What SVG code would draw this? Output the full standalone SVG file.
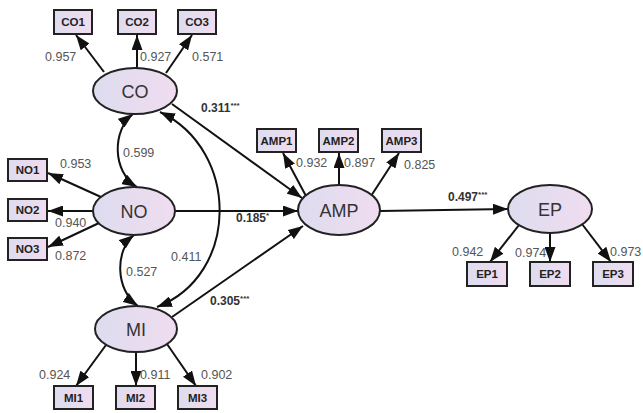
<svg xmlns="http://www.w3.org/2000/svg" width="643" height="413" viewBox="0 0 643 413">
<defs>
<linearGradient id="g" x1="0" y1="0" x2="1" y2="0">
<stop offset="0" stop-color="#dedcef"/>
<stop offset="1" stop-color="#f0dcf0"/>
</linearGradient>
<marker id="ah" markerUnits="userSpaceOnUse" markerWidth="15" markerHeight="11" refX="15" refY="5.5" orient="auto-start-reverse">
<path d="M0,0 L15,5.5 L0,11 z" fill="#111"/>
</marker>
<style>
.lat{fill:url(#g);stroke:#222;stroke-width:2}
.box{fill:url(#g);stroke:#222;stroke-width:2}
.lt{font-family:"Liberation Sans",Arial,sans-serif;font-size:18px;fill:#333;text-anchor:middle}
.bt{font-family:"Liberation Sans",Arial,sans-serif;font-size:11.5px;font-weight:bold;fill:#222;text-anchor:middle}
.ld{font-family:"Liberation Sans",Arial,sans-serif;font-size:12.5px;fill:#555}
.pc{font-family:"Liberation Sans",Arial,sans-serif;font-size:12px;font-weight:bold;fill:#333}
.st{font-size:8px}
.c{fill:none;stroke:#111;stroke-width:2;marker-end:url(#ah)}
.d{fill:none;stroke:#111;stroke-width:2;marker-start:url(#ah);marker-end:url(#ah)}
</style>
</defs>
<rect width="643" height="413" fill="#fff"/>
<g id="connectors">
<path class="c" d="M104,72 L76,35"/>
<path class="c" d="M137,68 L137,35"/>
<path class="c" d="M166,73 L192,35"/>
<path class="c" d="M101,197 L48,173"/>
<path class="c" d="M93,211 L48,211"/>
<path class="c" d="M99,223 L48,247"/>
<path class="c" d="M106,345 L76,386"/>
<path class="c" d="M136,352 L136,386"/>
<path class="c" d="M167,344 L196,386"/>
<path class="c" d="M306,196 L283,153"/>
<path class="c" d="M339,187 L339,153"/>
<path class="c" d="M371,196 L399,153"/>
<path class="c" d="M519,225 L490,262"/>
<path class="c" d="M550,233 L550,262"/>
<path class="c" d="M582,224 L611,262"/>
<path class="c" d="M172,104 L302,198"/>
<path class="c" d="M175,211 L298,211"/>
<path class="c" d="M172,317 L303,226"/>
<path class="c" d="M380,211 L508,209"/>
<path class="d" d="M137,187 C112,172 112,130 133,114"/>
<path class="d" d="M134,235 C115,250 115,290 138,306"/>
<path class="d" d="M160,112 C240,150 240,275 157,307"/>
</g>
<g id="CO"><ellipse class="lat" cx="135" cy="91" rx="42" ry="23"/><text class="lt" x="135" y="97.5">CO</text></g>
<g id="NO"><ellipse class="lat" cx="134" cy="211" rx="41" ry="24"/><text class="lt" x="134" y="217.5">NO</text></g>
<g id="MI"><ellipse class="lat" cx="136" cy="329" rx="41" ry="23"/><text class="lt" x="136" y="335.5">MI</text></g>
<g id="AMP"><ellipse class="lat" cx="339" cy="210" rx="41" ry="25"/><text class="lt" x="339" y="216.5">AMP</text></g>
<g id="EP"><ellipse class="lat" cx="550" cy="209" rx="42" ry="24"/><text class="lt" x="550" y="215.5">EP</text></g>
<g id="CO1"><rect class="box" x="54" y="10" width="38" height="24"/><text class="bt" x="73" y="26">CO1</text></g>
<g id="CO2"><rect class="box" x="118" y="10" width="38" height="24"/><text class="bt" x="137" y="26">CO2</text></g>
<g id="CO3"><rect class="box" x="178" y="10" width="38" height="24"/><text class="bt" x="197" y="26">CO3</text></g>
<g id="NO1"><rect class="box" x="8" y="159" width="39" height="22"/><text class="bt" x="27.5" y="174">NO1</text></g>
<g id="NO2"><rect class="box" x="8" y="199" width="39" height="22"/><text class="bt" x="27.5" y="214">NO2</text></g>
<g id="NO3"><rect class="box" x="8" y="238" width="39" height="22"/><text class="bt" x="27.5" y="253">NO3</text></g>
<g id="MI1"><rect class="box" x="54" y="386" width="39" height="23"/><text class="bt" x="73.5" y="401.5">MI1</text></g>
<g id="MI2"><rect class="box" x="116" y="386" width="39" height="23"/><text class="bt" x="135.5" y="401.5">MI2</text></g>
<g id="MI3"><rect class="box" x="178" y="386" width="39" height="23"/><text class="bt" x="197.5" y="401.5">MI3</text></g>
<g id="AMP1"><rect class="box" x="257" y="129" width="39" height="23"/><text class="bt" x="276.5" y="144.5">AMP1</text></g>
<g id="AMP2"><rect class="box" x="319" y="129" width="39" height="23"/><text class="bt" x="338.5" y="144.5">AMP2</text></g>
<g id="AMP3"><rect class="box" x="382" y="129" width="39" height="23"/><text class="bt" x="401.5" y="144.5">AMP3</text></g>
<g id="EP1"><rect class="box" x="467" y="262" width="40" height="24"/><text class="bt" x="487" y="278">EP1</text></g>
<g id="EP2"><rect class="box" x="530" y="262" width="40" height="24"/><text class="bt" x="550" y="278">EP2</text></g>
<g id="EP3"><rect class="box" x="593" y="262" width="40" height="24"/><text class="bt" x="613" y="278">EP3</text></g>
<g id="labels">
<text class="ld" x="45" y="61">0.957</text>
<text class="ld" x="140" y="61">0.927</text>
<text class="ld" x="192" y="61">0.571</text>
<text class="ld" x="60" y="168">0.953</text>
<text class="ld" x="55" y="227">0.940</text>
<text class="ld" x="55" y="260">0.872</text>
<text class="ld" x="123" y="157">0.599</text>
<text class="ld" x="126" y="276">0.527</text>
<text class="ld" x="171" y="261">0.411</text>
<text class="ld" x="39" y="379">0.924</text>
<text class="ld" x="140" y="379">0.911</text>
<text class="ld" x="201" y="379">0.902</text>
<text class="ld" x="296" y="167">0.932</text>
<text class="ld" x="344" y="167">0.897</text>
<text class="ld" x="404" y="169">0.825</text>
<text class="ld" x="452" y="256">0.942</text>
<text class="ld" x="515" y="257">0.974</text>
<text class="ld" x="610" y="256">0.973</text>
<text class="pc" x="201" y="112">0.311<tspan class="st" dy="-4">***</tspan></text>
<text class="pc" x="236" y="222">0.185<tspan class="st" dy="-4">*</tspan></text>
<text class="pc" x="210" y="305">0.305<tspan class="st" dy="-4">***</tspan></text>
<text class="pc" x="448" y="201">0.497<tspan class="st" dy="-4">***</tspan></text>
</g>
</svg>
